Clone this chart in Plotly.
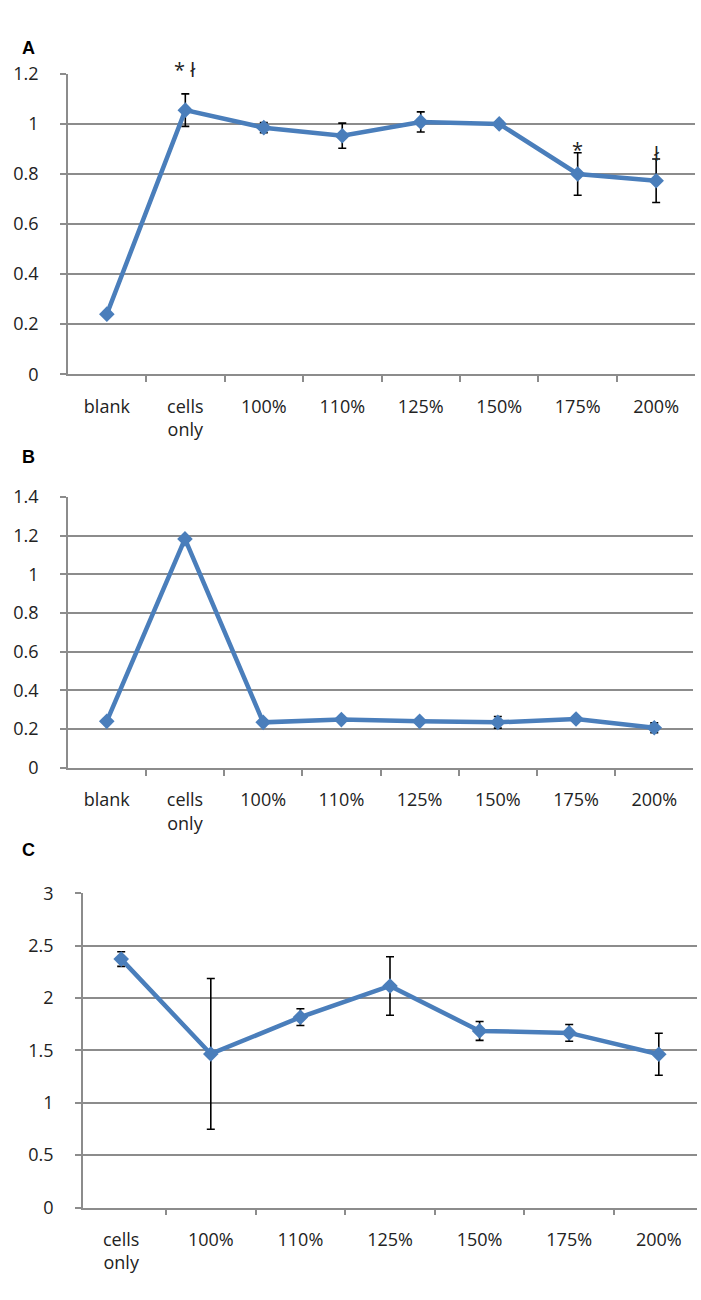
import plotly.graph_objects as go

# panel A
cats_a = ["blank", "cells<br>only", "100%", "110%", "125%", "150%", "175%", "200%"]
vals_a = [0.24, 1.055, 0.985, 0.953, 1.008, 1.0, 0.80, 0.773]
err_a = [0.0, 0.065, 0.02, 0.05, 0.04, 0.01, 0.085, 0.087]

# panel B
cats_b = ["blank", "cells<br>only", "100%", "110%", "125%", "150%", "175%", "200%"]
vals_b = [0.24, 1.183, 0.235, 0.249, 0.24, 0.235, 0.252, 0.207]
err_b = [0.0, 0.0, 0.0, 0.0, 0.0, 0.03, 0.0, 0.025]

# panel C
cats_c = ["cells<br>only", "100%", "110%", "125%", "150%", "175%", "200%"]
vals_c = [2.373, 1.467, 1.818, 2.116, 1.687, 1.668, 1.464]
err_c = [0.07, 0.72, 0.08, 0.28, 0.09, 0.08, 0.2]

# significance marks over panel A (category, text, pixel row)
marks_a = [("cells<br>only", "* ł", 42), ("175%", "*", 123), ("200%", "ł", 127)]

W, H = 701, 1300
blue = '#4a7ebb'
grey = '#8c8c8c'
font = "Open Sans"


def xdom(l, r):
	return [l / W, r / W]


def ydom(top, bottom):
	return [1 - bottom / H, 1 - top / H]


fig = go.Figure()

panels = [
	(cats_a, vals_a, err_a, 'x', 'y'),
	(cats_b, vals_b, err_b, 'x2', 'y2'),
	(cats_c, vals_c, err_c, 'x3', 'y3'),
]
for cats, vals, errs, xa, ya in panels:
	fig.add_trace(go.Scatter(x=cats, y=vals, xaxis=xa, yaxis=ya, mode='lines+markers',
		line={'color': blue, 'width': 4.5},
		marker={'symbol': 'diamond', 'size': 12, 'color': blue},
		error_y={'type': 'data', 'array': errs, 'color': 'black', 'thickness': 1.6, 'width': 4},
		showlegend=False))

xcommon = dict(type='category', tickson='boundaries', ticks='outside', ticklen=6,
	tickcolor=grey, tickwidth=1.5, showline=True, linecolor=grey, linewidth=1.5,
	showgrid=False, tickfont={'family': font, 'size': 18, 'color': '#222'},
	ticklabelstandoff=15)
ycommon = dict(ticks='outside', ticklen=6, tickcolor=grey, tickwidth=1.5,
	showline=True, linecolor=grey, linewidth=1.5, showgrid=True, gridcolor=grey,
	gridwidth=1.5, zeroline=False, tickfont={'family': font, 'size': 18, 'color': '#222'},
	ticklabelstandoff=18)

fig.update_layout(
	width=W, height=H,
	margin={'l': 0, 'r': 0, 't': 0, 'b': 0},
	paper_bgcolor='white',
	plot_bgcolor='white',
	xaxis=dict(xcommon, domain=xdom(68, 695), anchor='y'),
	yaxis=dict(ycommon, domain=ydom(62, 368), range=[0, 1.2], dtick=0.2, anchor='x'),
	xaxis2=dict(xcommon, domain=xdom(68, 693), anchor='y2'),
	yaxis2=dict(ycommon, domain=ydom(493, 769), range=[0, 1.4], dtick=0.2, anchor='x2'),
	xaxis3=dict(xcommon, domain=xdom(83, 697), anchor='y3'),
	yaxis3=dict(ycommon, domain=ydom(897, 1217), range=[0, 3], dtick=0.5, anchor='x3'),
)

for cat, txt, py in marks_a:
	fig.add_annotation(x=cat, y=1 - py / H, xref='x', yref='paper', text=txt, showarrow=False,
		font={'family': font, 'size': 20, 'color': '#222'})

for letter, py in [("A", 23), ("B", 452), ("C", 853)]:
	fig.add_annotation(x=20 / W, y=1 - py / H, xref='paper', yref='paper', text="<b>" + letter + "</b>",
		showarrow=False, font={'family': 'Liberation Sans', 'size': 18, 'color': 'black'})

# drop the default page margin so the figure sits at the window corner
fig.write_html("out.html", config={'displayModeBar': False},
	post_script="document.body.style.margin='0';")
